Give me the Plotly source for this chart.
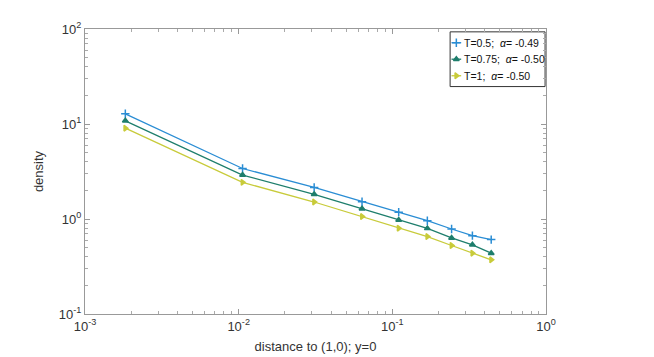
"""Density vs distance to (1,0) on log-log axes."""

import plotly.graph_objects as go

# distances along y=0
distance = [0.00183, 0.0106, 0.0310, 0.0635, 0.110, 0.169, 0.243, 0.332, 0.440]

# density for each T
density_t05 = [12.8, 3.40, 2.15, 1.52, 1.18, 0.96, 0.785, 0.668, 0.607]
density_t075 = [10.8, 2.90, 1.82, 1.28, 0.975, 0.797, 0.632, 0.535, 0.437]
density_t1 = [9.03, 2.43, 1.51, 1.06, 0.80, 0.653, 0.526, 0.437, 0.372]

series_names = [
    "T=0.5;&nbsp;&nbsp;<i>α</i>= -0.49",
    "T=0.75;&nbsp;&nbsp;<i>α</i>= -0.50",
    "T=1;&nbsp; <i>α</i>= -0.50",
]
tick_vals_x = [1e-3, 1e-2, 1e-1, 1]
tick_text_x = ["10<sup>-3</sup>", "10<sup>-2</sup>", "10<sup>-1</sup>", "10<sup>0</sup>"]
tick_vals_y = [1e-1, 1, 10, 100]
tick_text_y = ["10<sup>-1</sup>", "10<sup>0</sup>", "10<sup>1</sup>", "10<sup>2</sup>"]

colors = ["#2A8DD4", "#1E7E6C", "#C8CB3A"]
symbols = ["cross-thin", "triangle-up", "triangle-right"]
marker_sizes = [6, 5, 5]

# hand-made legend layout (paper fractions of the plot area)
legend_rows = [0.952, 0.894, 0.836]
legend_line_x = [0.795, 0.816]
legend_text_x = 0.818


def minor_vals(decades):
    # 2..9 within each decade
    return [m * 10**d for d in decades for m in range(2, 10)]


fig = go.Figure()
for name, vals, color, sym, msize, row in zip(
    series_names,
    [density_t05, density_t075, density_t1],
    colors,
    symbols,
    marker_sizes,
    legend_rows,
):
    marker = {
        "symbol": sym,
        "size": msize,
        "color": color,
        "line": {"color": color, "width": 1.5},
    }
    fig.add_trace(
        go.Scatter(
            x=distance,
            y=vals,
            name=name,
            mode="lines+markers",
            line={"color": color, "width": 1.3},
            marker=marker,
        )
    )
    # legend sample: short line with marker in the middle
    fig.add_trace(
        go.Scatter(
            x=legend_line_x,
            y=[row, row],
            mode="lines",
            line={"color": color, "width": 1.3},
            xaxis="x2",
            yaxis="y2",
            hoverinfo="skip",
        )
    )
    fig.add_trace(
        go.Scatter(
            x=[sum(legend_line_x) / 2],
            y=[row],
            mode="markers",
            marker=marker,
            xaxis="x2",
            yaxis="y2",
            hoverinfo="skip",
        )
    )
    fig.add_annotation(
        x=legend_text_x,
        y=row,
        xref="paper",
        yref="paper",
        xanchor="left",
        yanchor="middle",
        text=name,
        showarrow=False,
        font={"size": 10.5, "color": "#111111"},
    )

fig.add_shape(
    type="rect",
    xref="paper",
    yref="paper",
    x0=0.792,
    x1=0.998,
    y0=0.798,
    y1=0.99,
    line={"color": "#333333", "width": 1},
    fillcolor="white",
    layer="below",
)

axis_common = {
    "type": "log",
    "showgrid": False,
    "zeroline": False,
    "showline": True,
    "mirror": "ticks",
    "linecolor": "#999999",
    "linewidth": 1,
    "ticks": "inside",
    "ticklen": 5,
    "tickcolor": "#999999",
    "tickfont": {"size": 13, "color": "#333333"},
}

fig.update_layout(
    width=654,
    height=357,
    # page body adds 8px, so margins are shifted to compensate
    margin={"l": 77, "r": 116, "t": 19, "b": 51},
    paper_bgcolor="white",
    plot_bgcolor="white",
    showlegend=False,
    font={"family": "Liberation Sans, Arial, sans-serif", "color": "#333333"},
    xaxis={
        **axis_common,
        "range": [-3, 0],
        "tickvals": tick_vals_x,
        "ticktext": tick_text_x,
        "minor": {
            "ticks": "inside",
            "ticklen": 3,
            "tickcolor": "#aaaaaa",
            "tickvals": minor_vals([-3, -2, -1]),
        },
        "title": {"text": "distance to (1,0); y=0", "font": {"size": 13}, "standoff": 9},
    },
    yaxis={
        **axis_common,
        "range": [-1, 2],
        "tickvals": tick_vals_y,
        "ticktext": tick_text_y,
        "minor": {
            "ticks": "inside",
            "ticklen": 3,
            "tickcolor": "#aaaaaa",
            "tickvals": minor_vals([-1, 0, 1]),
        },
        "title": {"text": "density", "font": {"size": 13}, "standoff": 12},
    },
    xaxis2={"overlaying": "x", "range": [0, 1], "visible": False},
    yaxis2={"overlaying": "y", "range": [0, 1], "visible": False},
)

fig.write_html("out.html")
